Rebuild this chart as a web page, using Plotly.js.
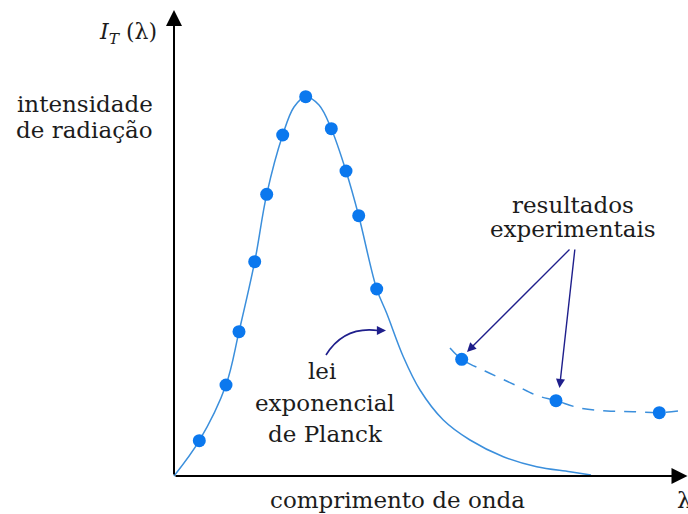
<!DOCTYPE html>
<html>
<head>
<meta charset="utf-8">
<script src="https://cdn.plot.ly/plotly-3.0.1.min.js"></script>
<style>
  html, body { margin: 0; padding: 0; background: #ffffff; }
  #chart { width: 688px; height: 514px; }
</style>
</head>
<body>
<div id="chart"></div>
<script>
// Planck curve (arbitrary units): wavelength vs. radiation intensity
const lambdaCurve = [0, 0.253, 0.52, 0.65, 0.807, 0.927, 1.087, 1.20, 1.317, 1.45, 1.573, 1.72, 1.847, 2.027, 2.127, 2.293, 2.46, 2.693, 2.96, 3.293, 3.627, 3.96, 4.17];
const intensityCurve = [0, 0.353, 0.91, 1.443, 2.143, 2.817, 3.41, 3.69, 3.793, 3.71, 3.473, 3.05, 2.603, 1.87, 1.627, 1.193, 0.86, 0.56, 0.36, 0.193, 0.093, 0.043, 0.01];

// points sitting on the Planck curve
const lambdaPoints = [0.253, 0.52, 0.65, 0.807, 0.927, 1.087, 1.317, 1.573, 1.72, 1.847, 2.027];
const intensityPoints = [0.353, 0.91, 1.443, 2.143, 2.817, 3.41, 3.793, 3.473, 3.05, 2.603, 1.87];

// experimental results at long wavelengths (dashed trend)
const lambdaExpCurve = [2.76, 2.877, 3.11, 3.41, 3.63, 3.82, 4.06, 4.33, 4.59, 4.853, 5.04];
const intensityExpCurve = [1.28, 1.167, 1.05, 0.91, 0.805, 0.753, 0.68, 0.65, 0.643, 0.633, 0.65];
const lambdaExp = [2.877, 3.82, 4.853];
const intensityExp = [1.167, 0.753, 0.633];

const curveBlue = '#3b8fdc';
const dotBlue = '#0b78ee';
const navy = '#1f1f8c';
const ink = '#1c1c1c';
const serif = 'DejaVu Serif, serif';

const traces = [
  { x: lambdaCurve, y: intensityCurve, mode: 'lines',
    line: { color: curveBlue, width: 1.5, shape: 'spline', smoothing: 1 }, hoverinfo: 'skip' },
  { x: lambdaExpCurve, y: intensityExpCurve, mode: 'lines',
    line: { color: curveBlue, width: 1.5, shape: 'spline', smoothing: 1, dash: '12px,9px' }, hoverinfo: 'skip' },
  { x: lambdaPoints, y: intensityPoints, mode: 'markers',
    marker: { color: dotBlue, size: 13 }, hoverinfo: 'skip' },
  { x: lambdaExp, y: intensityExp, mode: 'markers',
    marker: { color: dotBlue, size: 13 }, hoverinfo: 'skip' }
];

function label(text, x, y, size, anchor) {
  return { text: text, x: x, y: y, xref: 'x', yref: 'y', showarrow: false,
           xanchor: anchor || 'center', yanchor: 'middle',
           font: { family: serif, size: size || 23, color: ink } };
}

function arrow(x0, y0, x1, y1, color, width, size) {
  return { x: x1, y: y1, ax: x0, ay: y0, xref: 'x', yref: 'y', axref: 'x', ayref: 'y',
           text: '', showarrow: true, arrowhead: 2, arrowsize: size, arrowwidth: width,
           arrowcolor: color, standoff: 0, startstandoff: 0 };
}

const annotations = [
  // axes
  arrow(0, 0, 5.135, 0, '#000', 2, 1.6),
  arrow(0, 0, 0, 4.66, '#000', 2, 1.6),
  // axis labels
  label('<i>I</i><sub><i>T</i></sub> (λ)', -0.155, 4.43, 22, 'right'),
  label('intensidade', -0.895, 3.72),
  label('de radiação', -0.895, 3.46),
  label('comprimento de onda', 2.23, -0.24),
  label('λ', 5.10, -0.24),
  // curve callouts
  label('lei', 1.48, 1.05),
  label('exponencial', 1.51, 0.73),
  label('de Planck', 1.51, 0.42),
  label('resultados', 3.99, 2.71),
  label('experimentais', 3.99, 2.47),
  arrow(3.97, 2.28, 2.93, 1.24, navy, 1.4, 1.3),
  arrow(4.01, 2.28, 3.855, 0.88, navy, 1.4, 1.3),
  arrow(2.02, 1.455, 2.12, 1.455, navy, 1.4, 1.3)
];

const shapes = [
  { type: 'path', xref: 'x', yref: 'y',
    path: 'M 1.52,1.21 Q 1.70,1.50 2.04,1.455',
    line: { color: navy, width: 1.6 } }
];

const layout = {
  width: 688, height: 514,
  margin: { l: 0, r: 0, t: 0, b: 0 },
  paper_bgcolor: '#ffffff', plot_bgcolor: '#ffffff',
  showlegend: false,
  xaxis: { range: [-1.74, 5.14], visible: false, fixedrange: true },
  yaxis: { range: [-0.38, 4.76], visible: false, fixedrange: true },
  annotations: annotations,
  shapes: shapes
};

Plotly.newPlot('chart', traces, layout, { displayModeBar: false, staticPlot: true });
</script>
</body>
</html>
